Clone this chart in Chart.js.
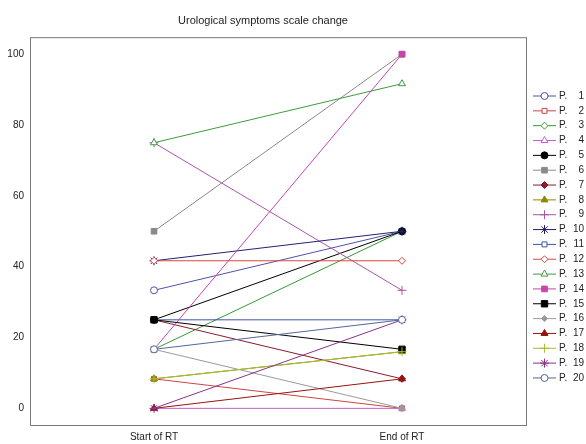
<!DOCTYPE html>
<html>
<head>
<meta charset="utf-8">
<script src="https://cdn.jsdelivr.net/npm/chart.js@4.4.0/dist/chart.umd.min.js"></script>
<style>
  html, body { margin: 0; padding: 0; background: #fff; }
</style>
</head>
<body>
<canvas id="symptomsChart" width="586" height="444"></canvas>
<script>
const categories = ['Start of RT', 'End of RT'];
const patientNumbers = ['1', '2', '3', '4', '5', '6', '7', '8', '9', '10',
                        '11', '12', '13', '14', '15', '16', '17', '18', '19', '20'];
const startValues = [33.33, 8.33, 16.67, 0, 25, 50, 25, 8.33, 75, 41.67,
                     25, 41.67, 75, 16.67, 25, 16.67, 0, 8.33, 0, 16.67];
const endValues = [50, 0, 50, 0, 50, 100, 8.33, 16, 33.33, 50,
                   25, 41.67, 91.67, 100, 16.67, 0, 8.33, 16, 25, 25];
const yTicks = [0, 20, 40, 60, 80, 100];

// marker look per patient
const colors = ['#5050a8', '#cc4444', '#339933', '#c060c8', '#000000', '#8a8a8a', '#8b1a2a', '#8a8a00', '#a855a8', '#22226e',
                '#3a55aa', '#dd4444', '#3f9a3f', '#c844aa', '#000000', '#9a9a9a', '#991111', '#aabb33', '#883388', '#556699'];
const styles = ['circle', 'rect', 'rectRot', 'triangle', 'circle', 'rect', 'rectRot', 'triangle', 'cross', 'star',
                'rect', 'rectRot', 'triangle', 'rect', 'rect', 'rectRot', 'triangle', 'cross', 'star', 'circle'];
const filled = [false, false, false, false, true, true, true, true, true, true,
                false, false, false, true, true, true, true, true, true, false];
const sizes = [3.5, 3.5, 3.5, 4, 3.5, 4, 3.5, 4, 4.5, 4.5, 3.5, 3.5, 4, 4, 4.5, 3, 4, 4.5, 4.5, 3.5];

const datasets = patientNumbers.map((n, i) => ({
    label: 'P. ' + n,
    data: [startValues[i], endValues[i]],
    order: patientNumbers.length - i, // later patients drawn on top
    borderColor: colors[i],
    backgroundColor: colors[i],
    borderWidth: 1,
    pointStyle: styles[i],
    pointRadius: sizes[i],
    pointBorderColor: colors[i],
    pointBackgroundColor: filled[i] ? colors[i] : '#ffffff',
    pointBorderWidth: 1,
    tension: 0
}));

const framePlugin = {
    id: 'frame',
    beforeDatasetsDraw(chart) {
        const a = chart.chartArea;
        const ctx = chart.ctx;
        ctx.save();
        ctx.strokeStyle = '#777777';
        ctx.lineWidth = 1;
        ctx.strokeRect(a.left + 0.5, a.top + 0.5, a.right - a.left, a.bottom - a.top);
        ctx.restore();
    }
};

const legendPlugin = {
    id: 'sideLegend',
    afterDraw(chart) {
        const ctx = chart.ctx;
        ctx.save();
        chart.data.datasets.forEach((ds, i) => {
            const y = 96 + i * 14.84;
            ctx.strokeStyle = ds.borderColor;
            ctx.lineWidth = 1;
            ctx.beginPath();
            ctx.moveTo(533, y);
            ctx.lineTo(556, y);
            ctx.stroke();
            ctx.fillStyle = ds.pointBackgroundColor;
            ctx.strokeStyle = ds.pointBorderColor;
            Chart.helpers.drawPoint(ctx, {
                pointStyle: ds.pointStyle,
                radius: ds.pointRadius,
                rotation: 0,
                borderWidth: 1
            }, 544.5, y);
            ctx.fillStyle = '#222222';
            ctx.font = '10px "Liberation Sans", Arial, sans-serif';
            ctx.textBaseline = 'middle';
            ctx.textAlign = 'left';
            ctx.fillText('P.', 559, y);
            ctx.textAlign = 'right';
            ctx.fillText(patientNumbers[i], 584, y);
        });
        ctx.restore();
    }
};

new Chart(document.getElementById('symptomsChart').getContext('2d'), {
    type: 'line',
    data: { labels: categories, datasets: datasets },
    plugins: [framePlugin, legendPlugin],
    options: {
        responsive: false,
        animation: false,
        layout: { padding: { left: 0, right: 60, top: 0, bottom: 0 } },
        scales: {
            x: {
                type: 'category',
                offset: true,
                grid: { display: false, tickLength: 0 },
                border: { display: false },
                ticks: {
                    color: '#222222',
                    font: { family: '"Liberation Sans", Arial, sans-serif', size: 10 },
                    padding: 6
                },
                afterFit(scale) { scale.height = 19; }
            },
            y: {
                min: -4.7,
                max: 104.8,
                grid: { display: false, tickLength: 0 },
                border: { display: false },
                afterBuildTicks(scale) { scale.ticks = yTicks.map(v => ({ value: v })); },
                ticks: {
                    color: '#222222',
                    font: { family: '"Liberation Sans", Arial, sans-serif', size: 10 },
                    padding: 6
                },
                afterFit(scale) { scale.width = 30; }
            }
        },
        plugins: {
            legend: { display: false },
            tooltip: { enabled: false },
            title: {
                display: true,
                text: 'Urological symptoms scale change',
                color: '#222222',
                font: { family: '"Liberation Sans", Arial, sans-serif', size: 11, weight: 'normal' },
                padding: { top: 14, bottom: 10 }
            }
        }
    }
});
</script>
</body>
</html>
